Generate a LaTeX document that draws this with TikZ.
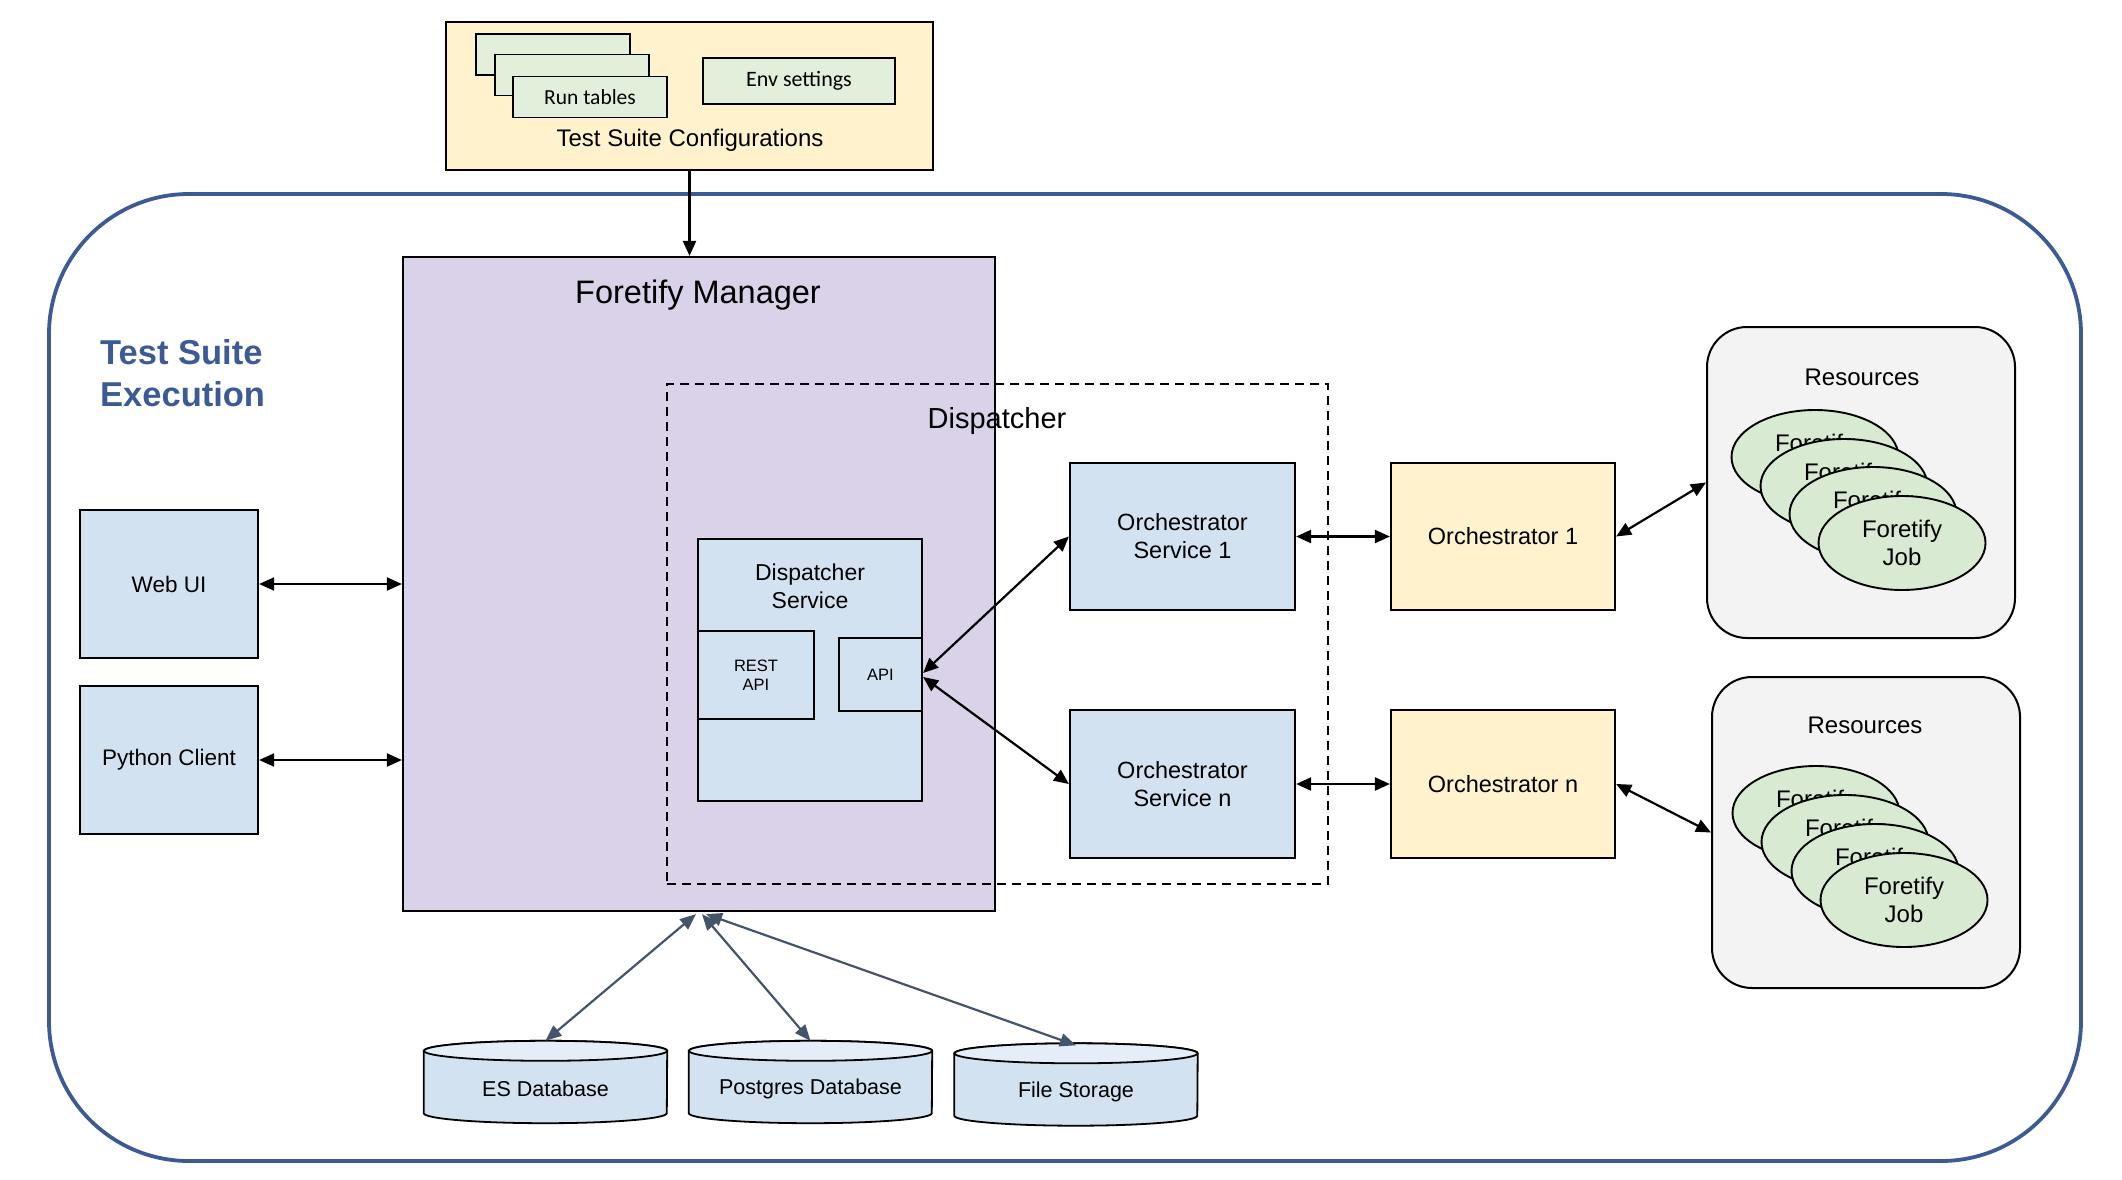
\documentclass[tikz,border=0pt]{standalone}
\usepackage{fontspec}
\setmainfont{Liberation Sans}
\newfontfamily\carlito{Carlito}
\usetikzlibrary{arrows.meta,calc,shapes.geometric}
\definecolor{lblue}{HTML}{D3E2F1}
\definecolor{lpurple}{HTML}{D9D2E9}
\definecolor{lyellow}{HTML}{FFF2CC}
\definecolor{lgreen}{HTML}{D9EAD3}
\definecolor{rgreen}{HTML}{E2EFDA}
\definecolor{lgray}{HTML}{F3F3F3}
\definecolor{tblue}{HTML}{3C5A94}
\definecolor{slate}{HTML}{44546A}
\definecolor{cylbody}{HTML}{D3E2F1}
\definecolor{cyltop}{HTML}{E5EEF8}
\newcommand\fsz[2]{\fontsize{#1}{#2}\selectfont}
\begin{document}
\begin{tikzpicture}[x=1pt,y=1pt,
  bx/.style={draw=black, line width=2.2pt, inner sep=0pt, align=center},
  bluebox/.style={bx, fill=lblue, font=\fsz{22.5}{28}},
  orchbox/.style={bx, fill=lyellow, font=\fsz{23.5}{28}},
  rtab/.style={bx, line width=1.8pt, fill=rgreen, minimum width=154pt, minimum height=41pt, font=\carlito\fsz{21.5}{25}},
  jobell/.style={ellipse, draw=black, line width=1.9pt, fill=lgreen, minimum width=167pt, minimum height=94pt, inner sep=0pt, align=center, font=\fsz{24}{28}},
  resbox/.style={draw=black, line width=2pt, fill=lgray, rounded corners=40pt, minimum width=308pt, minimum height=311pt, inner sep=0pt},
  cylnode/.style={minimum width=243pt, minimum height=82pt, inner sep=0pt},
  arr/.style={line width=2.2pt, {Triangle[length=15pt,width=13pt]}-{Triangle[length=15pt,width=13pt]}},
  arrone/.style={line width=2.2pt, -{Triangle[length=15pt,width=13pt]}},
  dbarr/.style={draw=slate, line width=2.2pt, {Triangle[length=16pt,width=13pt]}-{Triangle[length=16pt,width=13pt]}},
  lbl/.style={inner sep=0pt, align=center}
]
\useasboundingbox (0,0) rectangle (2122,-1180);

% outer execution area
\node[draw=tblue, line width=3.8pt, rounded corners=140pt, minimum width=2032pt, minimum height=967pt, inner sep=0pt] (exec) at (1065,-677.5) {};
\node[lbl, anchor=west, align=left, text=tblue, font=\bfseries\fsz{34.5}{42}] (execlbl) at (100,-373) {Test Suite\\Execution};

% configurations
\node[bx, fill=lyellow, minimum width=487pt, minimum height=148pt] (cfg) at (689.5,-96) {};
\node[rtab] (rt1) at (553,-54.5) {};
\node[rtab] (rt2) at (572,-75) {};
\node[rtab] (rt3) at (590,-97) {Run tables};
\node[rtab, minimum width=192pt, minimum height=46pt, font=\carlito\fsz{22}{25}] (env) at (799,-81) {Env settings};
\node[lbl, font=\fsz{24}{28}] (cfglbl) at (690,-140) {Test Suite Configurations};

% manager
\node[bx, fill=lpurple, minimum width=592pt, minimum height=654pt] (mgr) at (699,-584) {};
\node[lbl, font=\fsz{32.5}{38}] (mgrlbl) at (698,-295) {Foretify Manager};

% dispatcher
\node[draw=black, line width=2pt, dash pattern=on 9pt off 6pt, minimum width=661pt, minimum height=500pt, inner sep=0pt] (disp) at (997.5,-634) {};
\node[lbl, font=\fsz{29}{34}] (displbl) at (997,-421) {Dispatcher};

\node[bluebox, minimum width=224pt, minimum height=262pt] (dsvc) at (810,-670) {};
\node[lbl, font=\fsz{23}{28}] (dsvclbl) at (810,-586) {Dispatcher\\Service};
\node[bluebox, minimum width=116pt, minimum height=88pt, font=\fsz{16.5}{19}] (rest) at (756,-675) {REST\\API};
\node[bluebox, minimum width=83pt, minimum height=73pt, font=\fsz{16.5}{19}] (api) at (880.5,-674.5) {API};

% orchestrators
\node[bluebox, minimum width=225pt, minimum height=147pt, font=\fsz{23.5}{28}] (os1) at (1182.5,-536.5) {Orchestrator\\Service 1};
\node[bluebox, minimum width=225pt, minimum height=148pt, font=\fsz{23.5}{28}] (osn) at (1182.5,-784) {Orchestrator\\Service n};
\node[orchbox, minimum width=224pt, minimum height=147pt] (or1) at (1503,-536.5) {Orchestrator 1};
\node[orchbox, minimum width=224pt, minimum height=148pt] (orn) at (1503,-784) {Orchestrator n};

% clients
\node[bluebox, minimum width=178pt, minimum height=148pt] (web) at (169,-584) {Web UI};
\node[bluebox, minimum width=178pt, minimum height=148pt] (py) at (169,-760) {Python Client};

% resources 1
\node[resbox] (res1) at (1861,-482.5) {};
\node[lbl, font=\fsz{24}{28}] (res1lbl) at (1862,-377) {Resources};
\node[jobell] (j11) at (1815,-457) {Foretify\\Job};
\node[jobell] (j12) at (1844,-486) {Foretify\\Job};
\node[jobell] (j13) at (1873,-514) {Foretify\\Job};
\node[jobell] (j14) at (1902,-543) {Foretify\\Job};

% resources 2
\node[resbox] (res2) at (1866,-832.5) {};
\node[lbl, font=\fsz{24}{28}] (res2lbl) at (1865,-725) {Resources};
\node[jobell] (j21) at (1816,-813) {Foretify\\Job};
\node[jobell] (j22) at (1845,-842) {Foretify\\Job};
\node[jobell] (j23) at (1875,-871) {Foretify\\Job};
\node[jobell] (j24) at (1904,-900) {Foretify\\Job};

% storage cylinders
\node[cylnode] (es) at (545.5,-1082) {};
\node[cylnode] (pg) at (810.5,-1082) {};
\node[cylnode] (fs) at (1076,-1084.5) {};
\foreach \c in {es,pg,fs}{
  \draw[line width=1.8pt, fill=cylbody] ([yshift=-10pt]\c.north west) -- ([yshift=10pt]\c.south west)
     arc[start angle=180, end angle=360, x radius=121.5pt, y radius=10pt]
     -- ([yshift=-10pt]\c.north east)
     arc[start angle=0, end angle=180, x radius=121.5pt, y radius=10pt] -- cycle;
  \draw[line width=1.8pt, fill=cyltop] ([yshift=-10pt]\c.north) ellipse[x radius=121.5pt, y radius=10pt];
}
\node[lbl, font=\fsz{21.5}{25}] at ([yshift=-7pt]es.center) {ES Database};
\node[lbl, font=\fsz{21.5}{25}] at ([yshift=-7pt]pg.center) {Postgres Database};
\node[lbl, font=\fsz{21.5}{25}] at ([yshift=-7pt]fs.center) {File Storage};

% connectors
\draw[arrone] (cfg.south) -- (cfg.south |- mgr.north);
\draw[arr] (web.east) -- (web.east -| mgr.west);
\draw[arr] (py.east) -- (py.east -| mgr.west);
\draw[arr] ([yshift=1.5pt]api.east) -- (os1.west);
\draw[arr] ([yshift=-2.5pt]api.east) -- (osn.west);
\draw[arr] (os1.east) -- (or1.west);
\draw[arr] (osn.east) -- (orn.west);
\draw[arr] (or1.east) -- (res1.west);
\draw[arr] (orn.east) -- (res2.west);
\draw[dbarr] ([xshift=-3pt,yshift=-2pt]mgr.south) -- (es.north);
\draw[dbarr] ([xshift=3pt,yshift=-2pt]mgr.south) -- (pg.north);
\draw[dbarr] ([xshift=7pt,yshift=-2pt]mgr.south) -- ([yshift=-2pt]fs.north);
\end{tikzpicture}
\end{document}
